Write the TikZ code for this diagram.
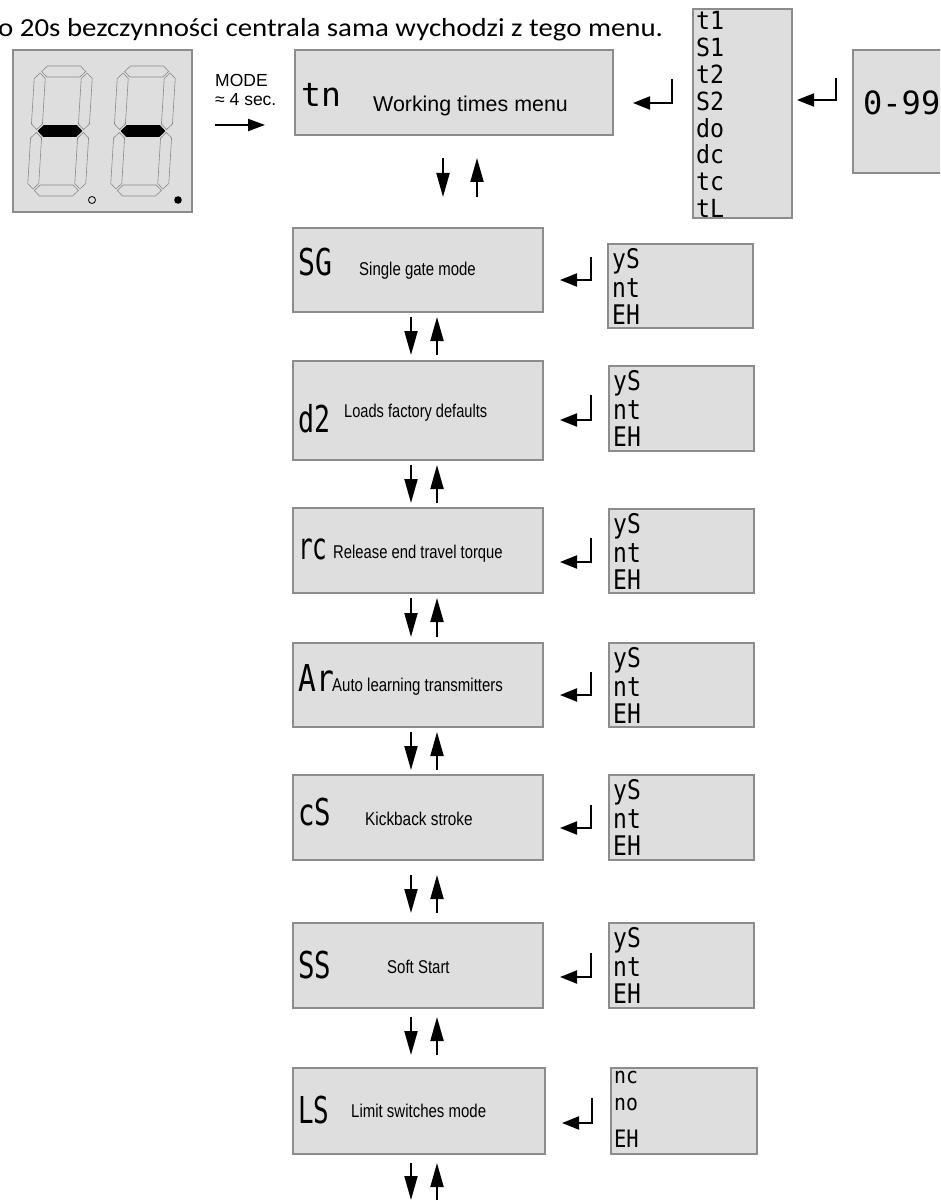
\documentclass[tikz,border=0pt]{standalone}
\usepackage{fontspec}
\usepackage{graphicx}
\setmainfont{Liberation Sans}
\newfontfamily\titlefont{Carlito}
\newfontfamily\segfont{DejaVu Sans Mono}
\usetikzlibrary{arrows.meta,calc}
\definecolor{lcd}{HTML}{DEDEDE}
\definecolor{framegray}{HTML}{8C8C8C}
\definecolor{segline}{HTML}{8A8A8A}
\newcommand\sx[2]{\scalebox{#1}[1]{#2}}
\newcommand\lcdnode[5]{\node[lcdbox, minimum width=#4pt, minimum height=#5pt] (#1) at (#2,#3) {};}
\newcommand\segdigit[1]{%
\begin{scope}[shift={(#1,66)}, xslant=0.0615]
 \draw[seg] (7,5.5)--(12.5,0)--(45.5,0)--(51,5.5)--(45.5,11)--(12.5,11)--cycle;
 \draw[segon] (7,65)--(12.5,59.5)--(45.5,59.5)--(51,65)--(45.5,70.5)--(12.5,70.5)--cycle;
 \draw[seg] (7,124.5)--(12.5,119)--(45.5,119)--(51,124.5)--(45.5,130)--(12.5,130)--cycle;
 \draw[seg] (5.5,7)--(11,12.5)--(11,58)--(5.5,63.5)--(0,58)--(0,12.5)--cycle;
 \draw[seg] (5.5,66.5)--(11,72)--(11,117.5)--(5.5,123)--(0,117.5)--(0,72)--cycle;
 \draw[seg] (52.5,7)--(58,12.5)--(58,58)--(52.5,63.5)--(47,58)--(47,12.5)--cycle;
 \draw[seg] (52.5,66.5)--(58,72)--(58,117.5)--(52.5,123)--(47,117.5)--(47,72)--cycle;
\end{scope}}
\newcommand\vpair[6]{%
 \draw[varr] ($(#1.south -| #3)+(0,#5)$) -- ($(#2.north -| #3)+(0,-#6)$);
 \draw[varr] ($(#2.north -| #4)+(0,-#6)$) -- ($(#1.south -| #4)+(0,#5)$);}
\newcommand\yslist[2]{%
 \node[listtxt] (#1a) at ($(#2.north west)+(4,24)$) {\sx{0.85}{yS}};
 \node[listtxt] (#1b) at ($(#2.north west)+(4,53)$) {\sx{0.85}{nt}};
 \node[listtxt] (#1c) at ($(#2.north west)+(4,80)$) {\sx{0.85}{EH}};}
\tikzset{
 lcdbox/.style={draw=framegray, fill=lcd, line width=1.8pt, inner sep=0pt, outer sep=0pt, anchor=north west, rectangle},
 codetxt/.style={anchor=base west, inner sep=0pt, font=\segfont\fontsize{37}{37}\selectfont},
 listtxt/.style={anchor=base west, inner sep=0pt, font=\segfont\fontsize{27}{27}\selectfont},
 smalltxt/.style={anchor=base west, inner sep=0pt, font=\segfont\fontsize{25}{25}\selectfont},
 desc/.style={anchor=base west, inner sep=0pt, font=\fontsize{18.5}{20}\selectfont},
 varr/.style={line width=2pt, -{Triangle[length=24pt,width=13pt]}},
 retarr/.style={line width=2pt, line join=miter, -{Triangle[length=17pt,width=13pt]}},
 seg/.style={draw=segline, line width=0.6pt, fill=lcd},
 segon/.style={draw=black, fill=black, line width=0.6pt},
}
\begin{document}
\begin{tikzpicture}[x=1pt, y=-1pt]
\useasboundingbox (0,0) rectangle (940,1201);
\clip (0,0) rectangle (940,1201);
\fill[white] (0,0) rectangle (940,1201);

% title
\node[anchor=base west, inner sep=0pt, font=\titlefont\fontsize{26}{26}\selectfont] (title) at (-2,37) {\sx{1.11}{o 20s bezczynności centrala sama wychodzi z tego menu.}};

% display
\lcdnode{disp}{13}{50}{179}{162}
\segdigit{35}
\segdigit{118}
\draw[black, line width=0.8pt, fill=lcd] (92,200) circle (3.5pt);
\fill[black] (178,200) circle (3.8pt);

\node[anchor=base west, inner sep=0pt, font=\fontsize{17.5}{18}\selectfont] (mode) at (215,87) {MODE};
\node[anchor=base west, inner sep=0pt, font=\fontsize{17.5}{18}\selectfont] (sec) at (215,106) {≈ 4 sec.};

% boxes
\lcdnode{m1}{295}{50}{318}{85}
\lcdnode{l1}{693}{9}{99}{209}
\lcdnode{z}{853}{50}{120}{123}
\lcdnode{m2}{293}{228}{250}{84}
\lcdnode{l2}{608}{244}{145}{84}
\lcdnode{m3}{293}{361}{250}{99}
\lcdnode{l3}{609}{366}{145}{85}
\lcdnode{m4}{293}{508}{250}{85}
\lcdnode{l4}{609}{509}{145}{84}
\lcdnode{m5}{293}{643}{250}{84}
\lcdnode{l5}{609}{643}{145}{84}
\lcdnode{m6}{293}{775}{250}{85}
\lcdnode{l6}{609}{775}{145}{85}
\lcdnode{m7}{293}{923}{250}{85}
\lcdnode{l7}{609}{923}{145}{85}
\lcdnode{m8}{293}{1068}{252}{86}
\lcdnode{l8}{611}{1068}{146}{86}

% codes
\node[codetxt, font=\segfont\fontsize{33}{33}\selectfont] (c1) at (301,107) {\sx{1.0}{tn}};
\node[codetxt] (c2) at (298,275) {\sx{0.76}{SG}};
\node[codetxt] (c3) at (298,432) {\sx{0.72}{d2}};
\node[codetxt] (c4) at (298,559) {\sx{0.66}{rc}};
\node[codetxt] (c5) at (298,691) {\sx{0.8}{Ar}};
\node[codetxt] (c6) at (298,825) {\sx{0.74}{cS}};
\node[codetxt] (c7) at (298,978) {\sx{0.74}{SS}};
\node[codetxt] (c8) at (298,1123) {\sx{0.7}{LS}};

% descriptions
\node[desc, font=\fontsize{21.4}{22}\selectfont] (d1) at (373,112) {Working times menu};
\node[desc] (d2) at (359,275) {\sx{0.81}{Single gate mode}};
\node[desc] (d3) at (344,417) {\sx{0.79}{Loads factory defaults}};
\node[desc] (d4) at (333,558) {\sx{0.8}{Release end travel torque}};
\node[desc] (d5) at (332,691) {\sx{0.81}{Auto learning transmitters}};
\node[desc] (d6) at (365,825) {\sx{0.83}{Kickback stroke}};
\node[desc] (d7) at (387,973) {\sx{0.81}{Soft Start}};
\node[desc] (d8) at (351,1117) {\sx{0.81}{Limit switches mode}};

% list contents
\foreach \t [count=\i from 0] in {t1,S1,t2,S2,do,dc,tc,tL}
  \node[smalltxt] (lt\i) at (696,{30+26.8*\i}) {\sx{0.93}{\t}};
\node[anchor=base west, inner sep=0pt, font=\segfont\fontsize{32}{32}\selectfont] (zt) at (863,115) {0-99};
\yslist{y2}{l2}
\yslist{y3}{l3}
\yslist{y4}{l4}
\yslist{y5}{l5}
\yslist{y6}{l6}
\yslist{y7}{l7}
\node[smalltxt, font=\segfont\fontsize{22}{22}\selectfont] (n8a) at ($(l8.north west)+(3,15)$) {\sx{0.9}{nc}};
\node[smalltxt, font=\segfont\fontsize{22}{22}\selectfont] (n8b) at ($(l8.north west)+(3,42)$) {\sx{0.9}{no}};
\node[smalltxt, font=\segfont\fontsize{24}{24}\selectfont] (n8c) at ($(l8.north west)+(3,79)$) {\sx{0.85}{EH}};

% mode arrow
\draw[line width=2pt, -{Triangle[length=17pt,width=12pt]}] ($(disp.east)+(23,-6)$) -- ($(m1.west)+(-30,32.5)$);

% return arrows
\draw[retarr] ($(l1.west)+(-21,-34.5)$) |- ($(m1.east)+(20,10.5)$);
\draw[retarr] ($(z.west)+(-17,-33.5)$) |- ($(l1.east)+(5,-13.5)$);
\draw[retarr] ($(l2.west)+(-17,-29)$) |- ($(m2.east)+(17,10)$);
\draw[retarr] ($(l3.west)+(-18,-13.5)$) |- ($(m3.east)+(17,9.5)$);
\draw[retarr] ($(l4.west)+(-18,-13)$) |- ($(m4.east)+(17,11.5)$);
\draw[retarr] ($(l5.west)+(-18,-13)$) |- ($(m5.east)+(17,10)$);
\draw[retarr] ($(l6.west)+(-18,-12.5)$) |- ($(m6.east)+(17,10.5)$);
\draw[retarr] ($(l7.west)+(-18,-12.5)$) |- ($(m7.east)+(17,11.5)$);
\draw[retarr] ($(l8.west)+(-19,-13)$) |- ($(m8.east)+(17,12)$);

% up/down arrows
\coordinate (dA) at (443,0);
\coordinate (uA) at (477,0);
\coordinate (dB) at (411,0);
\coordinate (uB) at (437,0);
\vpair{m1}{m2}{dA}{uA}{23}{31}
\vpair{m2}{m3}{dB}{uB}{5}{6}
\vpair{m3}{m4}{dB}{uB}{5}{5}
\vpair{m4}{m5}{dB}{uB}{5}{6}
\vpair{m5}{m6}{dB}{uB}{5}{5}
\vpair{m6}{m7}{dB}{uB}{15}{10}
\vpair{m7}{m8}{dB}{uB}{9}{13}
\coordinate (endD) at (411,1200);
\coordinate (endU) at (437,1200);
\draw[varr] ($(m8.south -| dB)+(0,9)$) -- (endD);
\draw[varr] (endU) -- ($(m8.south -| uB)+(0,9)$);
\end{tikzpicture}
\end{document}
